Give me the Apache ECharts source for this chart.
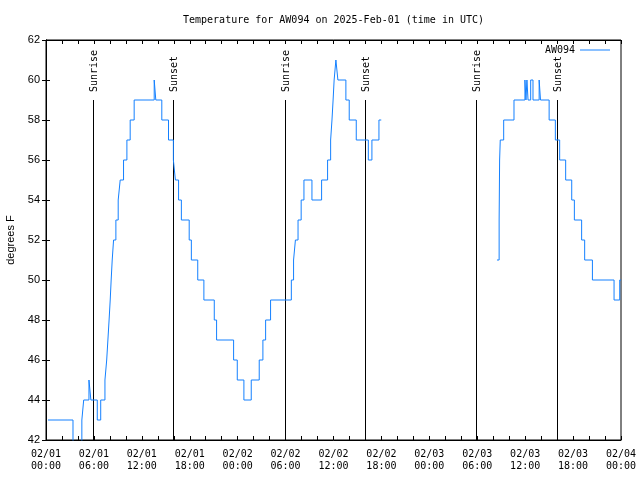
<!DOCTYPE html>
<html>
<head>
<meta charset="utf-8">
<script src="https://cdn.jsdelivr.net/npm/echarts@6/dist/echarts.min.js"></script>
<style>html,body{margin:0;padding:0;background:#fff}#c{width:640px;height:480px}</style>
</head>
<body>
<div id="c"></div>
<script>
// Hours since 2025-02-01 00:00 UTC, temperature (°F); each value holds until the next entry
const tempDays1to2 = [
  [0.25,43],[3.38,42],[3.55,40],[4.49,43],[4.72,44],[5.38,45],[5.62,44],[6.42,43],[6.85,44],
  [7.38,45],[7.6,46],[7.75,47],[7.9,48],[8.04,49],[8.16,50],[8.29,51],[8.46,52],[8.75,53],
  [9.04,54],[9.29,55],[9.71,56],[10.13,57],[10.54,58],[11.04,59],[13.55,60],[13.75,59],
  [14.5,58],[15.34,57],[15.95,56],[16.2,55],[16.6,54],[16.95,53],[17.93,52],[18.2,51],
  [19.0,50],[19.77,49],[21.07,48],[21.36,47],[23.49,46],[23.95,45],[24.78,44],[25.7,45],
  [26.7,46],[27.16,47],[27.5,48],[28.12,49],[30.72,50],[31.0,51],[31.23,52],[31.56,53],
  [31.95,54],[32.3,55],[33.3,54],[34.51,55],[35.26,56],[35.64,57],[35.81,58],[35.95,59],
  [36.08,60],[36.3,61],[36.55,60],[37.55,59],[37.97,58],[38.85,57],[40.36,56],[40.81,57],
  [41.69,58],[41.98,58]
];
const dataGapAt = 41.99;
const tempDay3 = [
  [56.47,51],[56.74,53],[56.8,56],[56.88,57],[57.31,58],[58.6,59],[59.97,60],[60.1,59],
  [60.22,60],[60.36,59],[60.69,60],[60.98,59],[61.75,60],[61.92,59],[63.0,58],[63.78,57],
  [64.32,56],[65.07,55],[65.83,54],[66.16,53],[67.07,52],[67.45,51],[68.42,50],[71.13,49],
  [71.84,50],[72.0,50]
];
const sunriseHours = [6.0, 30.05, 53.95];
const sunsetHours = [16.0, 40.05, 64.05];
const xTickLabels = ['02/01\n00:00','02/01\n06:00','02/01\n12:00','02/01\n18:00',
  '02/02\n00:00','02/02\n06:00','02/02\n12:00','02/02\n18:00',
  '02/03\n00:00','02/03\n06:00','02/03\n12:00','02/03\n18:00','02/04\n00:00'];
const yMin = 42, yMax = 62, sunLineTop = 59;
const seriesName = 'AW094';
const titleText = 'Temperature for AW094 on 2025-Feb-01 (time in UTC)';

const MONO = '"DejaVu Sans Mono", "Liberation Mono", monospace';
const SANS = '"Liberation Sans", Arial, sans-serif';
const LINE_COLOR = '#1480ff';

function sunSeries(hours, label) {
  return {
    type: 'custom', name: label, xAxisIndex: 0, yAxisIndex: 0, silent: true, clip: false,
    data: hours.map(h => [h]),
    renderItem: function (params, api) {
      const x = api.value(0);
      const p0 = api.coord([x, yMin]);
      const p1 = api.coord([x, sunLineTop]);
      const px = Math.round(p0[0] - 0.5) + 0.5;
      return {
        type: 'group',
        children: [
          { type: 'line', shape: { x1: px, y1: p0[1], x2: px, y2: p1[1] },
            style: { stroke: '#000', lineWidth: 1 } },
          { type: 'text', x: px + 0.5, y: p1[1] - 8, rotation: Math.PI / 2,
            style: { text: label, fontFamily: MONO, fontSize: 10, fill: '#000',
                     align: 'left', verticalAlign: 'middle' } }
        ]
      };
    }
  };
}

const axisCommon = {
  axisLine: { show: true, lineStyle: { color: '#000', width: 1 } },
  axisTick: { show: true, inside: true, length: 4, lineStyle: { color: '#000' } },
  splitLine: { show: false }
};

const chart = echarts.init(document.getElementById('c'), null, { renderer: 'canvas' });
chart.setOption({
  animation: false,
  backgroundColor: '#fff',
  title: {
    text: titleText, left: 183, top: 15, padding: 0,
    textStyle: { fontFamily: MONO, fontSize: 10, fontWeight: 'normal', color: '#000' }
  },
  legend: {
    data: [{ name: seriesName, icon: 'rect' }], top: 45, right: 30, align: 'right', padding: 0,
    itemWidth: 30, itemHeight: 1, itemGap: 0,
    textStyle: { fontFamily: MONO, fontSize: 10, color: '#000' }
  },
  grid: { left: 46, right: 19, top: 40, bottom: 40, show: true, borderColor: '#000', borderWidth: 1,
          containLabel: false, outerBoundsMode: 'none' },
  xAxis: [
    Object.assign({
      type: 'value', min: 0, max: 72, interval: 2, position: 'bottom',
      axisLabel: {
        show: true, color: '#000', fontFamily: MONO, fontSize: 10, lineHeight: 12, margin: 8,
        formatter: v => (v % 6 === 0 ? xTickLabels[v / 6] : '')
      }
    }, axisCommon),
    Object.assign({
      type: 'value', min: 0, max: 72, interval: 2, position: 'top', axisLabel: { show: false }
    }, axisCommon)
  ],
  yAxis: [
    Object.assign({
      type: 'value', min: yMin, max: yMax, interval: 2, position: 'left',
      name: 'degrees F', nameLocation: 'middle', nameGap: 30,
      nameTextStyle: { fontFamily: SANS, fontSize: 11, color: '#000' },
      axisLabel: { show: true, color: '#000', fontFamily: SANS, fontSize: 11, margin: 6 }
    }, axisCommon),
    Object.assign({
      type: 'value', min: yMin, max: yMax, interval: 2, position: 'right', axisLabel: { show: false }
    }, axisCommon)
  ],
  series: [
    sunSeries(sunriseHours, 'Sunrise'),
    sunSeries(sunsetHours, 'Sunset'),
    {
      type: 'line', name: seriesName, xAxisIndex: 0, yAxisIndex: 0,
      data: tempDays1to2.concat([[dataGapAt, '-']], tempDay3),
      step: 'end', symbol: 'none', showSymbol: false, connectNulls: false, clip: true,
      lineStyle: { color: LINE_COLOR, width: 1 },
      itemStyle: { color: LINE_COLOR }
    }
  ]
});
</script>
</body>
</html>
